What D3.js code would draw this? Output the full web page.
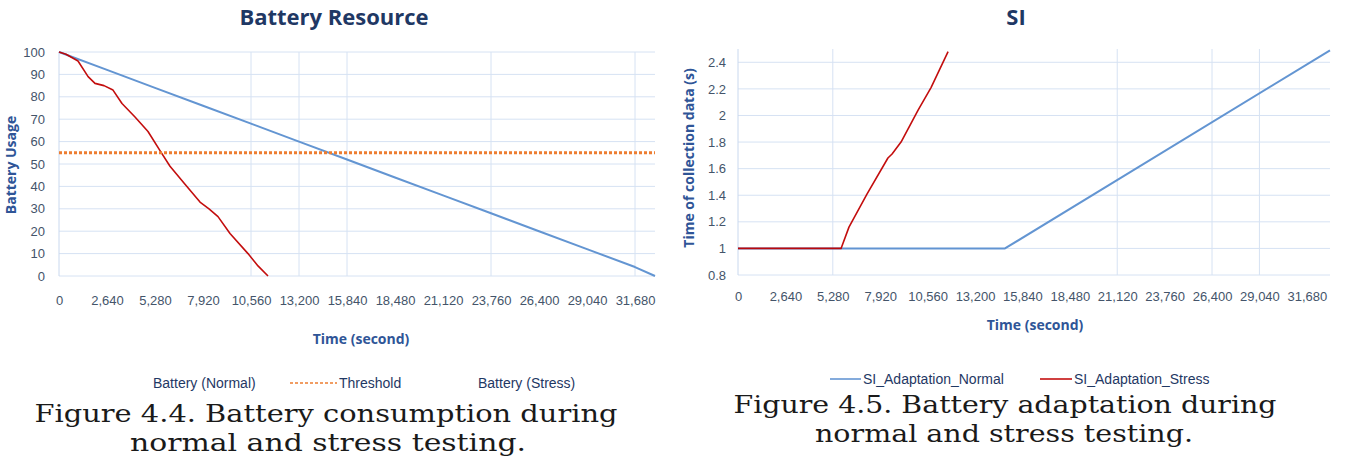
<!DOCTYPE html>
<html>
<head>
<meta charset="utf-8">
<script src="https://cdn.jsdelivr.net/npm/d3@7"></script>
<style>
	body { margin: 0; background: #fff; }
	svg { display: block; }
	.tick text { font-family: "Liberation Sans", Arial, sans-serif; font-size: 13px; fill: #44546a; }
	.grid line { stroke: #d6e2f3; stroke-width: 1; }
	.title { font-family: "Open Sans", sans-serif; font-weight: bold; fill: #1f3864; }
	.axis-title { font-family: "Open Sans", sans-serif; font-weight: bold; font-size: 14px; fill: #2f5597; }
	.legend { font-family: "Liberation Sans", sans-serif; font-size: 14px; fill: #1f3864; }
	.caption { font-family: "DejaVu Serif", serif; font-size: 24px; fill: #1a1a1a; }
</style>
</head>
<body>
<svg id="fig" width="1347" height="470"></svg>
<script>
// tick labels shared by both charts (seconds)
const timeTicks = [0, 2640, 5280, 7920, 10560, 13200, 15840, 18480, 21120, 23760, 26400, 29040, 31680];

// Battery Resource
const batteryTicks = [0, 10, 20, 30, 40, 50, 60, 70, 80, 90, 100];
const batteryGridX = [10560, 13200, 15840, 23760, 31680];
const batteryNormal = [
	[0, 100], [2640, 92], [5280, 84], [7920, 76], [10560, 68], [13200, 60], [15840, 52],
	[18480, 44], [21120, 36], [23760, 28], [26400, 20], [29040, 12], [31680, 4], [32780, 0]
];
const batteryStress = [
	[0, 100], [385, 99], [1045, 96], [1600, 89], [1980, 86], [2475, 85], [2970, 83],
	[3465, 77], [4180, 71], [4895, 64.5], [5555, 56], [6105, 49], [6930, 41], [7755, 33],
	[8250, 30], [8745, 26.5], [9405, 19], [10395, 10], [10945, 4.5], [11495, 0]
];
const threshold = 55;

// SI
const siTicks = [0.8, 1, 1.2, 1.4, 1.6, 1.8, 2, 2.2, 2.4];
const siGridX = [5280, 21120, 26400, 29040];
const siNormal = [[0, 1], [14870, 1], [32970, 2.49]];
const siStress = [
	[0, 1], [5740, 1], [6180, 1.16], [7190, 1.41], [8350, 1.68], [8580, 1.71],
	[9080, 1.8], [10030, 2.04], [10750, 2.21], [11700, 2.48]
];

const svg = d3.select("#fig");
const fmt = d3.format(",");

function chart(o) {
	let x = d3.scaleLinear().domain(o.xDomain).range([o.left, o.right]);
	let y = d3.scaleLinear().domain(o.yDomain).range([o.bottom, o.top]);

	let g = svg.append("g");

	// horizontal grid
	g.append("g").attr("class", "grid")
		.selectAll("line").data(o.yTicks).join("line")
		.attr("x1", o.left).attr("x2", o.right)
		.attr("y1", d => y(d)).attr("y2", d => y(d));

	// vertical grid
	g.append("g").attr("class", "grid")
		.selectAll("line").data(o.gridX).join("line")
		.attr("x1", d => x(d)).attr("x2", d => x(d))
		.attr("y1", o.top).attr("y2", o.bottom);

	// left edge line
	g.append("line")
		.attr("x1", o.left).attr("x2", o.left)
		.attr("y1", o.top).attr("y2", o.bottom)
		.attr("stroke", "#c9d8ee");

	let ya = g.append("g")
		.attr("transform", `translate(${o.left},0)`)
		.call(d3.axisLeft(y).tickValues(o.yTicks).tickSize(0).tickPadding(o.yPad).tickFormat(o.yFormat));
	ya.select(".domain").remove();

	let xa = g.append("g")
		.attr("transform", `translate(0,${o.xLabelY})`)
		.call(d3.axisBottom(x).tickValues(timeTicks).tickSize(0).tickFormat(fmt));
	xa.select(".domain").remove();

	for (let s of o.series) {
		g.append("path")
			.datum(s.data)
			.attr("fill", "none")
			.attr("stroke", s.color)
			.attr("stroke-width", s.width)
			.attr("stroke-opacity", 0.95)
			.attr("stroke-linejoin", "round")
			.attr("d", d3.line().x(d => x(d[0])).y(d => y(d[1])));
	}

	if (o.threshold != null) {
		g.append("line")
			.attr("x1", o.left).attr("x2", o.right)
			.attr("y1", y(o.threshold)).attr("y2", y(o.threshold))
			.attr("stroke", "#ed7d31")
			.attr("stroke-width", 3)
			.attr("stroke-dasharray", "3,2");
	}

	g.append("text").attr("class", "title")
		.attr("x", o.titleX).attr("y", 25)
		.attr("text-anchor", "middle")
		.attr("font-size", o.titleSize)
		.text(o.title);

	g.append("text").attr("class", "axis-title")
		.attr("text-anchor", "middle")
		.attr("transform", `translate(${o.yTitleX},${o.yTitleY}) rotate(-90)`)
		.text(o.yTitle);

	g.append("text").attr("class", "axis-title")
		.attr("x", o.xTitleX).attr("y", o.xTitleY)
		.attr("text-anchor", "middle")
		.text("Time (second)");

	return { x, y };
}

chart({
	left: 59, right: 655, top: 52, bottom: 276,
	xDomain: [0, 32780], yDomain: [0, 100],
	yTicks: batteryTicks, yPad: 14, yFormat: d => d,
	gridX: batteryGridX, xLabelY: 293,
	series: [
		{ data: batteryNormal, color: "#5b8fd0", width: 2 },
		{ data: batteryStress, color: "#c00000", width: 1.6 }
	],
	threshold: threshold,
	title: "Battery Resource", titleX: 334, titleSize: 22,
	yTitle: "Battery Usage", yTitleX: 16, yTitleY: 165,
	xTitleX: 361, xTitleY: 344
});

chart({
	left: 738, right: 1330, top: 49, bottom: 275,
	xDomain: [0, 32970], yDomain: [0.8, 2.5],
	yTicks: siTicks, yPad: 12, yFormat: d => d3.format("")(+d.toFixed(1)),
	gridX: siGridX, xLabelY: 289,
	series: [
		{ data: siNormal, color: "#5b8fd0", width: 2 },
		{ data: siStress, color: "#c00000", width: 1.6 }
	],
	threshold: null,
	title: "SI", titleX: 1016, titleSize: 22,
	yTitle: "Time of collection data (s)", yTitleX: 694, yTitleY: 158,
	xTitleX: 1035, xTitleY: 330
});

// legends
const leftLegend = svg.append("g").attr("class", "legend");
leftLegend.append("text").attr("x", 153).attr("y", 388).text("Battery (Normal)");
leftLegend.append("line").attr("x1", 290).attr("x2", 337).attr("y1", 383).attr("y2", 383)
	.attr("stroke", "#ed7d31").attr("stroke-width", 1.3).attr("stroke-dasharray", "3,2");
leftLegend.append("text").attr("x", 339).attr("y", 388).text("Threshold");
leftLegend.append("text").attr("x", 478).attr("y", 388).text("Battery (Stress)");

const rightLegend = svg.append("g").attr("class", "legend");
rightLegend.append("line").attr("x1", 830).attr("x2", 861).attr("y1", 379).attr("y2", 379)
	.attr("stroke", "#5b8fd0").attr("stroke-width", 1.5);
rightLegend.append("text").attr("x", 863).attr("y", 384).text("SI_Adaptation_Normal");
rightLegend.append("line").attr("x1", 1040).attr("x2", 1072).attr("y1", 379).attr("y2", 379)
	.attr("stroke", "#c00000").attr("stroke-width", 1.5);
rightLegend.append("text").attr("x", 1074).attr("y", 384).text("SI_Adaptation_Stress");

// captions
const caps = [
	{ x: 326, y: 422, w: 583, t: "Figure 4.4. Battery consumption during" },
	{ x: 328, y: 451, w: 396, t: "normal and stress testing." },
	{ x: 1005, y: 413, w: 543, t: "Figure 4.5. Battery adaptation during" },
	{ x: 1004, y: 442, w: 378, t: "normal and stress testing." }
];
svg.append("g").selectAll("text").data(caps).join("text")
	.attr("class", "caption")
	.attr("x", d => d.x).attr("y", d => d.y)
	.attr("text-anchor", "middle")
	.attr("textLength", d => d.w)
	.attr("lengthAdjust", "spacingAndGlyphs")
	.text(d => d.t);
</script>
</body>
</html>
